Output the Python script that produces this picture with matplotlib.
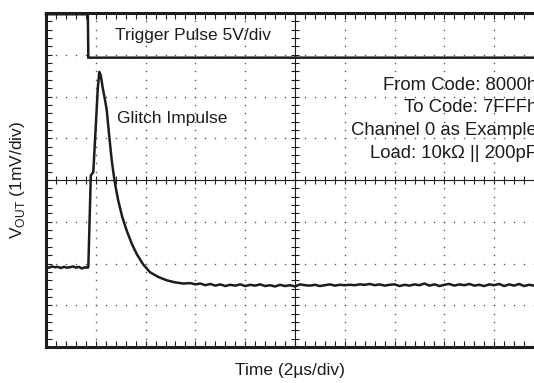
import numpy as np
import matplotlib
matplotlib.use("Agg")
import matplotlib.pyplot as plt

plt.rcParams['font.family'] = ['Liberation Sans', 'DejaVu Sans']
plt.rcParams['mathtext.fontset'] = 'custom'
plt.rcParams['mathtext.rm'] = 'Liberation Sans'

# ---- data (x in time divisions, y in vertical divisions) ----
trig_t = [0.0, 0.84, 0.85, 10.2]
trig_v = [7.97, 7.97, 6.93, 6.93]

pre_t = [0.0, 0.06, 0.12, 0.18, 0.24, 0.30, 0.36, 0.42, 0.48, 0.54, 0.60, 0.66, 0.72, 0.78, 0.84]
pre_v = [1.92, 1.90, 1.93, 1.91, 1.92, 1.89, 1.92, 1.90, 1.91, 1.93, 1.90, 1.92, 1.88, 1.91, 1.90]

glitch_t = [0.85, 0.90, 0.95, 1.00, 1.04, 1.07, 1.10, 1.14, 1.18, 1.22, 1.27, 1.32, 1.38,
            1.45, 1.53, 1.62, 1.72, 1.82, 1.95, 2.09, 2.25, 2.42, 2.58, 2.76]
glitch_v = [1.92, 4.11, 4.19, 5.30, 6.20, 6.59, 6.50, 6.20, 5.95, 5.67, 5.05, 4.47, 3.95,
            3.51, 3.12, 2.79, 2.48, 2.23, 1.98, 1.79, 1.68, 1.60, 1.55, 1.52]

tail_t = np.round(np.arange(2.9, 10.01, 0.1), 2)
tail_v = [1.53, 1.50, 1.52, 1.48, 1.51, 1.47, 1.50, 1.46, 1.49, 1.47, 1.50,
          1.46, 1.49, 1.47, 1.50, 1.46, 1.48, 1.45, 1.49, 1.46, 1.48,
          1.45, 1.50, 1.48, 1.47, 1.49, 1.46, 1.48, 1.50, 1.47, 1.49,
          1.48, 1.49, 1.48, 1.50, 1.49, 1.51, 1.48, 1.50, 1.47, 1.49,
          1.50, 1.46, 1.49, 1.47, 1.50, 1.48, 1.52, 1.47, 1.50, 1.46,
          1.49, 1.51, 1.47, 1.50, 1.48, 1.51, 1.47, 1.49, 1.46, 1.50,
          1.48, 1.51, 1.46, 1.50, 1.47, 1.51, 1.46, 1.49, 1.47, 1.50, 1.48]

notes = ["From Code: 8000h", "To Code: 7FFFh", "Channel 0 as Example", "Load: 10k\u03a9 || 200pF"]

ink = '#1c1c1c'

fig = plt.figure(figsize=(5.34, 3.83), dpi=100)
ax = fig.add_axes([46 / 534, 36 / 383, 498 / 534, 334 / 383])
ax.set_xlim(0, 10)
ax.set_ylim(0, 8)

# dotted graticule
minor_x = np.arange(0, 10.01, 0.2)
minor_y = np.arange(0, 8.01, 0.2)
for gx in range(1, 10):
    if gx == 5:
        continue
    ax.plot(np.full_like(minor_y, gx), minor_y, ls='none', marker='o', ms=1.1,
            color='#555555', mew=0)
for gy in range(1, 8):
    if gy == 4:
        continue
    ax.plot(minor_x, np.full_like(minor_x, gy), ls='none', marker='o', ms=1.1,
            color='#555555', mew=0)

# centre cross with ticks
ax.axvline(5, color=ink, lw=0.8)
ax.axhline(4, color=ink, lw=0.8)
ax.plot(minor_x, np.full_like(minor_x, 4), ls='none', marker='|', ms=6, mew=0.8, color=ink)
ax.plot(np.full_like(minor_y, 5), minor_y, ls='none', marker='_', ms=6, mew=0.8, color=ink)

# traces
ax.plot(trig_t, trig_v, color=ink, lw=1.8, clip_on=False, solid_joinstyle='miter')
vout_t = list(pre_t) + list(glitch_t) + list(tail_t)
vout_v = list(pre_v) + list(glitch_v) + list(tail_v)
ax.plot(vout_t, vout_v, color=ink, lw=1.8)

# frame
ax.set_xticks(minor_x)
ax.set_yticks(minor_y)
ax.tick_params(which='both', direction='in', length=4, width=0.8, color=ink,
               top=True, right=True, labelbottom=False, labelleft=False)
for s in ax.spines.values():
    s.set_linewidth(2.2)
    s.set_color(ink)

ax.text(1.39, 7.47, "Trigger Pulse 5V/div", fontsize=12.5, color=ink, va='center', ha='left')
ax.text(1.43, 5.47, "Glitch Impulse", fontsize=12.5, color=ink, va='center', ha='left')
for i, s in enumerate(notes):
    ax.text(9.86, 6.27 - i * 0.545, s, fontsize=13.3, color=ink, va='center', ha='right')

fig.text(18 / 534, 1 - 180 / 383, r"V$_{\mathrm{OUT}}$ (1mV/div)", rotation=90,
         fontsize=12.5, color=ink, va='center', ha='center')
fig.text(290 / 534, 1 - 370 / 383, "Time (2\u00b5s/div)", fontsize=12.5, color=ink,
         va='center', ha='center')

fig.savefig("out.png", dpi=100)
